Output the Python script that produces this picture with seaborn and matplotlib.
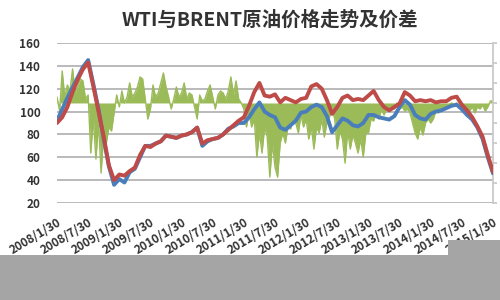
import numpy as np
import pandas as pd
import matplotlib
matplotlib.use("Agg")
import matplotlib.pyplot as plt
import seaborn as sns
from matplotlib.patches import Polygon

title = "WTI与BRENT原油价格走势及价差"
tick_labels = ["2008/1/30", "2008/7/30", "2009/1/30", "2009/7/30", "2010/1/30",
               "2010/7/30", "2011/1/30", "2011/7/30", "2012/1/30", "2012/7/30",
               "2013/1/30", "2013/7/30", "2014/1/30", "2014/7/30", "2015/1/30"]

# monthly samples, 2008/1/30 .. 2015/1/30
wti = [92, 102, 112, 121, 130, 139, 145, 124, 102, 76, 52, 36,
       41, 38, 47, 50, 60, 70, 70, 72, 74, 79, 78, 77,
       79, 80, 82, 86, 70, 74, 76, 77, 80, 85, 87, 90,
       90, 95, 102, 108, 100, 97, 95, 86, 84, 88, 92, 99,
       100, 104, 106, 104, 96, 82, 88, 94, 92, 88, 87, 90,
       97, 97, 95, 94, 93, 96, 104, 110, 106, 97, 94, 93,
       98, 100, 101, 103, 105, 106, 102, 97, 93, 86, 76, 60,
       46]
brent = [90, 95, 104, 117, 128, 137, 143, 122, 100, 78, 53, 40,
         45, 44, 48, 51, 62, 70, 69, 72, 74, 79, 78, 77,
         79, 80, 82, 86, 72, 75, 76, 77, 80, 84, 88, 92,
         95, 105, 117, 125, 114, 113, 115, 108, 112, 110, 108, 111,
         112, 122, 124, 120, 110, 98, 104, 112, 114, 110, 111, 110,
         114, 118, 110, 104, 101, 104, 107, 117, 114, 109, 110, 109,
         110, 108, 109, 109, 112, 113, 106, 101, 95, 87, 78, 62,
         47]
# half-monthly WTI-BRENT spread (right, hidden axis)
spread = [3, -4, 16, 3, 9, 6, 17, 5, 8, 12, 11, 2, 4, -25, -8, -28, -10, -35, -15, -20,
          -12, -14, -5, 4, -2, 6, 0, 3, 10, 3, 5, 8, 13, 12, 2, -8, -3, 9, 3, 5,
          10, 15, 8, 3, -3, 2, 8, 3, 5, 10, 2, 5, 4, -2, -8, 4, 1, 2, 6, 9,
          3, -3, 4, 6, 5, 2, 6, 13, 4, 11, 2, 0, -3, -12, -5, -12, -8, -27, -15, -25,
          -12, -17, -37, -20, -32, -37, -20, -15, -20, -12, -13, -8, -10, -15, -6, -12, -8, -18, -12, -23,
          -12, -15, -8, -17, -10, -7, -3, -8, -23, -14, -18, -30, -14, -23, -16, -20, -25, -18, -27, -15,
          -15, -8, -9, -5, -8, -3, -6, -3, -4, -2, -3, 0, -3, -2, -4, -3, -5, -10, -15, -18,
          -12, -16, -10, -8, -10, -8, -4, -5, -3, -2, -2, -1, 0, -1, 0, -2, -1, -3, -2, -4,
          -2, -5, -2, -3, -1, -4, -2, 1, 1]

sns.set_theme(style="white")
plt.rcParams["font.family"] = ["Noto Sans CJK SC", "DejaVu Sans"]

start, end = pd.Timestamp("2008-01-30"), pd.Timestamp("2015-01-30")
month_dates = pd.date_range(start, end, periods=len(wti))
half_dates = pd.date_range(start, end, periods=len(spread))
df_price = pd.DataFrame({"date": month_dates, "WTI": wti, "BRENT": brent}).melt(
    id_vars="date", var_name="series", value_name="price")
df_spread = pd.DataFrame({"date": half_dates, "spread": spread})
tick_dates = pd.to_datetime(tick_labels, format="%Y/%m/%d")

fig = plt.figure(figsize=(5, 3), dpi=100)
rect = [0.114, 0.323, 0.872, 0.534]
ax = fig.add_axes(rect)
ax2 = ax.twinx()
ax3 = fig.add_axes(rect, sharex=ax, sharey=ax)
ax.set_zorder(0)
ax2.set_zorder(1)
ax3.set_zorder(2)
ax2.patch.set_visible(False)
ax3.patch.set_visible(False)

green = "#9bbb59"
ax2.fill_between(df_spread["date"], 0, df_spread["spread"], color=green, lw=0)
sns.lineplot(data=df_spread, x="date", y="spread", ax=ax2, color=green, lw=1.0)
ax2.set_ylim(-50, 30)
ax2.set_yticks(np.arange(-50, 31, 10))
ax2.tick_params(axis="y", right=True, direction="out", length=3, color="#c8c8c8",
                labelright=False)
for s in ["left", "top", "bottom"]:
    ax2.spines[s].set_visible(False)
ax2.spines["right"].set_color("#c8c8c8")
ax2.set_ylabel("")

sns.lineplot(data=df_price, x="date", y="price", hue="series",
             palette={"WTI": "#4a7ebb", "BRENT": "#be4b48"},
             hue_order=["WTI", "BRENT"], ax=ax3, lw=2.8, legend=False)
ax3.axis("off")

ax.set_xlim(start, end)
ax.set_ylim(20, 160)
ax.set_yticks(range(20, 161, 20))
ax.yaxis.grid(True, color="#b4b4b4", lw=1.3)
ax.xaxis.grid(False)
for s in ["left", "top", "bottom", "right"]:
    ax.spines[s].set_visible(False)
ax.tick_params(axis="y", length=0, pad=12, labelsize=8.5, labelcolor="#333333")
for t in ax.get_yticklabels():
    t.set_fontweight("bold")
ax.set_xticks(tick_dates)
ax.set_xticklabels(tick_labels, rotation=31, ha="right", rotation_mode="anchor",
                   fontsize=8.5, fontweight="bold", color="#333333")
ax.tick_params(axis="x", length=0, pad=9)
ax.set_xlabel("")
ax.set_ylabel("")

fig.text(0.54, 0.933, title, ha="center", va="center", fontsize=14,
         fontweight="bold", color="#333333")

fig.patches.append(Polygon([(0, 0), (1, 0), (1, 0.2), (0.896, 0.2), (0.896, 0.15), (0, 0.15)],
                           closed=True, transform=fig.transFigure, facecolor="#a5a5a5",
                           edgecolor="none", zorder=10))

fig.savefig("out.png", dpi=100)
